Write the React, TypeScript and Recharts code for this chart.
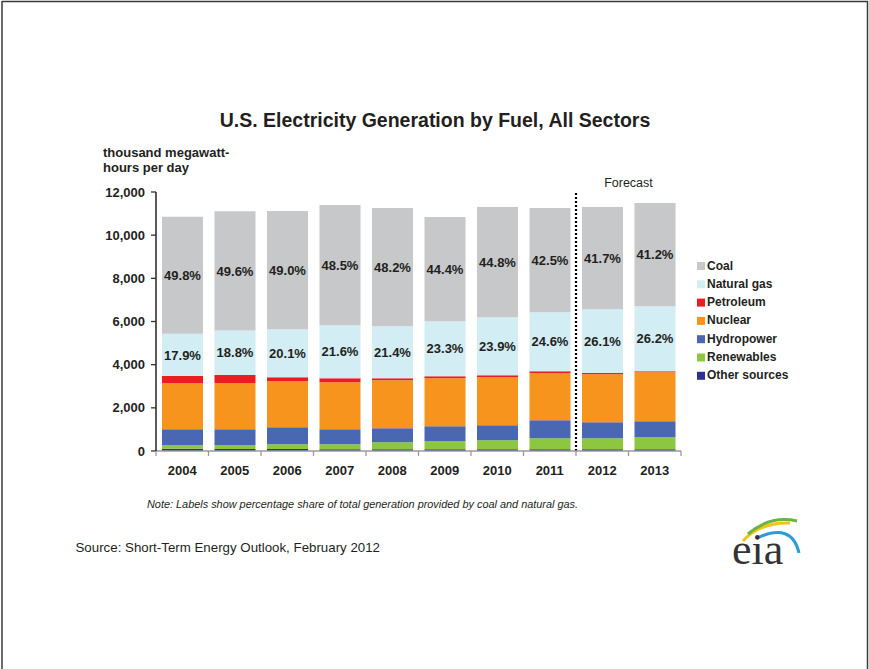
import React from 'react';
import { BarChart, Bar, XAxis, YAxis, ReferenceLine, LabelList } from 'recharts';

const years = ['2004', '2005', '2006', '2007', '2008', '2009', '2010', '2011', '2012', '2013'];
const coal = [5426, 5520, 5473, 5566, 5473, 4824, 5102, 4824, 4731, 4778];
const naturalGas = [1952, 2060, 2225, 2455, 2409, 2551, 2691, 2733, 2957, 3011];
const petroleum = [330, 385, 185, 185, 95, 95, 95, 95, 60, 50];
const nuclear = [2135, 2135, 2135, 2180, 2225, 2225, 2225, 2180, 2225, 2270];
const hydropower = [740, 740, 790, 700, 650, 695, 695, 835, 740, 745];
const renewables = [170, 175, 220, 225, 320, 370, 415, 510, 510, 555];
const otherSources = [100, 90, 90, 85, 85, 80, 80, 80, 80, 80];

const coalShare = ['49.8%', '49.6%', '49.0%', '48.5%', '48.2%', '44.4%', '44.8%', '42.5%', '41.7%', '41.2%'];
const gasShare = ['17.9%', '18.8%', '20.1%', '21.6%', '21.4%', '23.3%', '23.9%', '24.6%', '26.1%', '26.2%'];

const yTicks = [0, 2000, 4000, 6000, 8000, 10000, 12000];
const firstForecastYear = '2012';
const forecastLabelYear = '2012';

const TEXT = '#231f20';
const FONT = '"Liberation Sans", Arial, sans-serif';

const stackOrder = [
  { key: 'other', name: 'Other sources', color: '#2E3192' },
  { key: 'renewables', name: 'Renewables', color: '#8DC63F' },
  { key: 'hydropower', name: 'Hydropower', color: '#4A67B1' },
  { key: 'nuclear', name: 'Nuclear', color: '#F7941D' },
  { key: 'petroleum', name: 'Petroleum', color: '#ED1C24' },
  { key: 'gas', name: 'Natural gas', color: '#D3EDF4' },
  { key: 'coal', name: 'Coal', color: '#C7C8CA' },
];
const legendOrder = [...stackOrder].reverse();

const data = years.map((year, i) => ({
  year,
  other: otherSources[i],
  renewables: renewables[i],
  hydropower: hydropower[i],
  nuclear: nuclear[i],
  petroleum: petroleum[i],
  gas: naturalGas[i],
  coal: coal[i],
  coalLabel: coalShare[i],
  gasLabel: gasShare[i],
}));

const labelStyle = { fill: TEXT, fontSize: 13, fontWeight: 700, fontFamily: FONT };

const TICK_GAP = 15;

const YearTick = (props: any) => {
  const { x, y, payload, index, visibleTicksCount } = props;
  const half = payload && typeof payload.offset === 'number' && payload.offset > 0 ? payload.offset : 26.25;
  const axisY = y - TICK_GAP;
  const isLast = index === visibleTicksCount - 1;
  return (
    <g>
      <line x1={x - half} x2={x - half} y1={axisY} y2={axisY + 5} stroke="#9a9a9a" strokeWidth={1.3} />
      {isLast && <line x1={x + half} x2={x + half} y1={axisY} y2={axisY + 5} stroke="#9a9a9a" strokeWidth={1.3} />}
      <text x={x} y={y} dy="0.71em" textAnchor="middle" fill={TEXT} fontSize={13} fontWeight={700} fontFamily={FONT}>
        {payload.value}
      </text>
    </g>
  );
};

export default function App() {
  return (
    <div style={{ position: 'absolute', left: 0, top: 0, width: 869, height: 669, background: '#fff', fontFamily: FONT }}>
      <BarChart
        width={869}
        height={669}
        data={data}
        margin={{ top: 192, right: 188, left: 0, bottom: 188 }}
      >
        <XAxis
          dataKey="year"
          height={30}
          tickSize={0}
          tickMargin={TICK_GAP}
          axisLine={{ stroke: '#9a9a9a', strokeWidth: 1.3 }}
          tickLine={false}
          interval={0}
          tick={<YearTick />}
        />
        <YAxis
          width={156}
          domain={[0, 12000]}
          ticks={yTicks}
          tickSize={5}
          tickMargin={6}
          axisLine={{ stroke: '#000', strokeWidth: 1.3 }}
          tickLine={{ stroke: '#333', strokeWidth: 1.3 }}
          tickFormatter={(v: number) => v.toLocaleString('en-US')}
          tick={{ fill: TEXT, fontSize: 13, fontWeight: 700, fontFamily: FONT }}
          allowDataOverflow
        />
        {stackOrder.map((s) => (
          <Bar
            key={s.key}
            dataKey={s.key}
            name={s.name}
            stackId="fuel"
            fill={s.color}
            barSize={41}
            isAnimationActive={false}
          >
            {s.key === 'coal' && <LabelList dataKey="coalLabel" position="center" style={labelStyle} />}
            {s.key === 'gas' && <LabelList dataKey="gasLabel" position="center" style={labelStyle} />}
          </Bar>
        ))}
        <ReferenceLine
          x={firstForecastYear}
          position="start"
          stroke="#000"
          strokeWidth={2.2}
          strokeDasharray="2 2"
        />
        <ReferenceLine
          x={forecastLabelYear}
          position="end"
          stroke="none"
          label={{ value: 'Forecast', position: 'top', offset: 5, fill: TEXT, fontSize: 12.5, fontFamily: FONT }}
        />
      </BarChart>
      <svg
        width={869}
        height={669}
        style={{ position: 'absolute', left: 0, top: 0, pointerEvents: 'none' }}
      >
        <line x1={2} y1={1} x2={2} y2={669} stroke="#3a3a3a" strokeWidth={1.5} />
        <line x1={2} y1={1.5} x2={868} y2={1.5} stroke="#3a3a3a" strokeWidth={1.5} />
        <line x1={867.5} y1={1} x2={867.5} y2={669} stroke="#3a3a3a" strokeWidth={1.5} />
        <text x={435} y={127} textAnchor="middle" fontSize={19.5} fontWeight={700} fill={TEXT} fontFamily={FONT}>
          U.S. Electricity Generation by Fuel, All Sectors
        </text>
        <text x={103} y={157} fontSize={13} fontWeight={700} fill={TEXT} fontFamily={FONT}>
          thousand megawatt-
        </text>
        <text x={103} y={171.5} fontSize={13} fontWeight={700} fill={TEXT} fontFamily={FONT}>
          hours per day
        </text>
        {legendOrder.map((s, i) => (
          <g key={s.key}>
            <rect x={697} y={262 + i * 18.3} width={8} height={8} fill={s.color} />
            <text x={707} y={269.5 + i * 18.3} fontSize={12} fontWeight={700} fill={TEXT} fontFamily={FONT}>
              {s.name}
            </text>
          </g>
        ))}
        <text x={147} y={508} fontSize={10.9} fontStyle="italic" fill={TEXT} fontFamily={FONT}>
          Note: Labels show percentage share of total generation provided by coal and natural gas.
        </text>
        <text x={75.5} y={552} fontSize={13.3} fill={TEXT} fontFamily={FONT}>
          Source: Short-Term Energy Outlook, February 2012
        </text>
        <path d="M743 541 Q760 522 790 523" fill="none" stroke="#F2C318" strokeWidth={3} />
        <path d="M748 534 Q770 515 797 521" fill="none" stroke="#6DB33F" strokeWidth={3} />
        <path d="M757 538 Q792 522 799 553" fill="none" stroke="#2E9BD6" strokeWidth={3} />
        <text x={732} y={564} fontSize={44} fill="#333" fontFamily='"Liberation Serif", "DejaVu Serif", serif'>
          eia
        </text>
      </svg>
    </div>
  );
}
